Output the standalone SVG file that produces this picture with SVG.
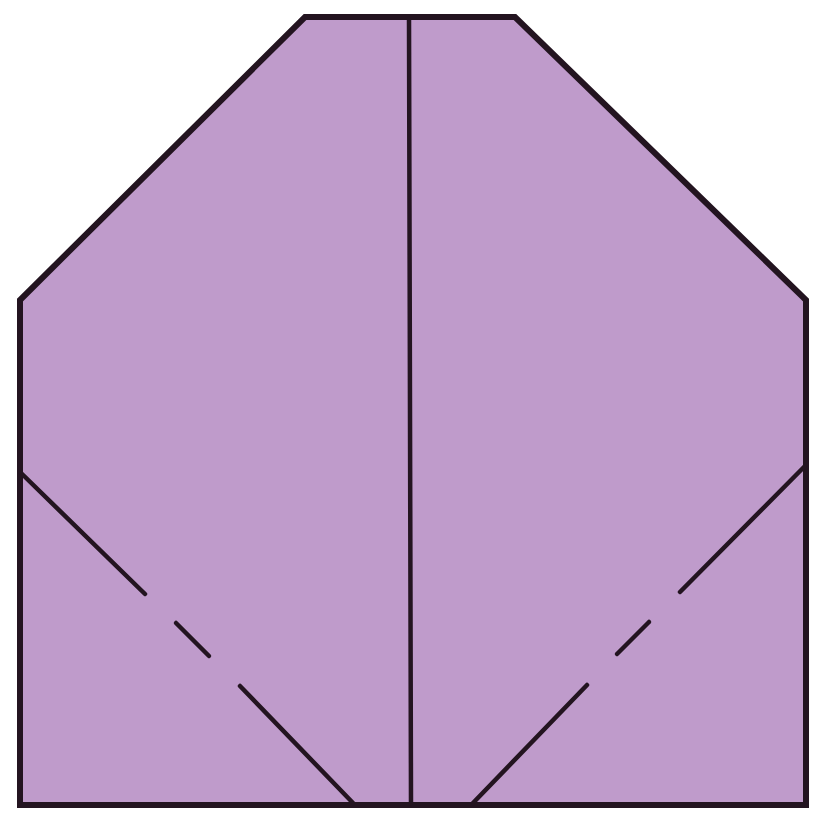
<svg xmlns="http://www.w3.org/2000/svg" width="813" height="818" viewBox="0 0 813 818">
<style>
.paper{fill:#bf9bcb;stroke:#231420;stroke-width:6;stroke-linejoin:miter}
.crease{fill:none;stroke:#231420;stroke-width:4.5;stroke-linecap:round}
</style>
<rect width="813" height="818" fill="#ffffff"/>
<g id="paper">
<polygon class="paper" points="305,17 515,17 806,300 806,805 20,805 20,300"/>
</g>
<g id="creases">
<line class="crease" x1="409" y1="19" x2="411" y2="803"/>
<line class="crease" x1="21" y1="473" x2="145" y2="594"/>
<line class="crease" x1="176" y1="623" x2="209" y2="656"/>
<line class="crease" x1="240" y1="686" x2="353" y2="803"/>
<line class="crease" x1="804" y1="467" x2="680" y2="592"/>
<line class="crease" x1="649" y1="622" x2="617" y2="654"/>
<line class="crease" x1="587" y1="685" x2="473" y2="803"/>
</g>
</svg>
